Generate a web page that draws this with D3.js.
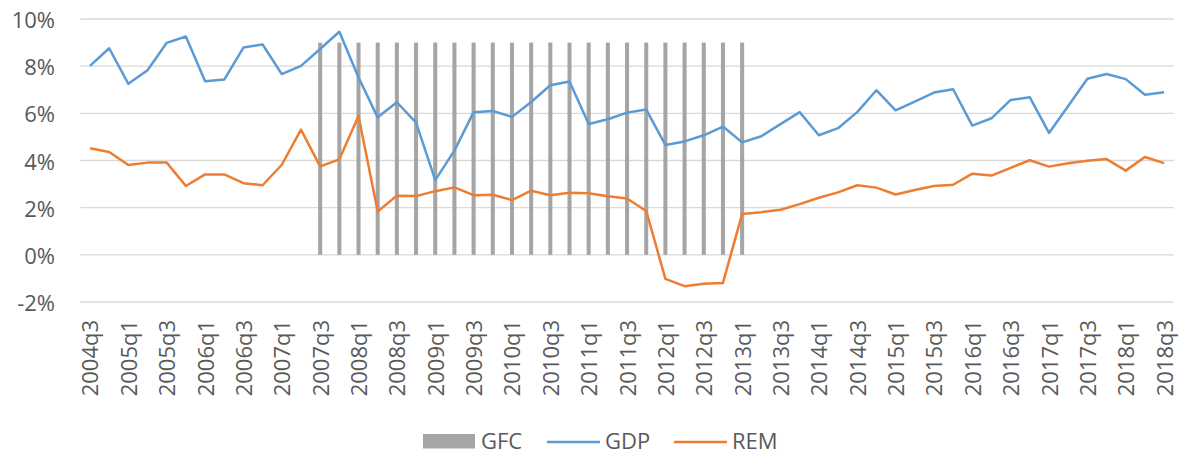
<!DOCTYPE html>
<html><head><meta charset="utf-8">
<script src="https://cdn.jsdelivr.net/npm/d3@7"></script>
<style>body{margin:0;background:#fff;} text{font-family:"Open Sans",sans-serif;fill:#595959;}</style>
</head><body><svg id="c" width="1180" height="455"></svg>
<script>
const quarters = ["2004q3","2004q4","2005q1","2005q2","2005q3","2005q4","2006q1","2006q2","2006q3","2006q4",
"2007q1","2007q2","2007q3","2007q4","2008q1","2008q2","2008q3","2008q4","2009q1","2009q2",
"2009q3","2009q4","2010q1","2010q2","2010q3","2010q4","2011q1","2011q2","2011q3","2011q4",
"2012q1","2012q2","2012q3","2012q4","2013q1","2013q2","2013q3","2013q4","2014q1","2014q2",
"2014q3","2014q4","2015q1","2015q2","2015q3","2015q4","2016q1","2016q2","2016q3","2016q4",
"2017q1","2017q2","2017q3","2017q4","2018q1","2018q2","2018q3"];
const gdp = [8.01,8.76,7.25,7.83,8.99,9.26,7.36,7.43,8.79,8.92,
7.66,8.01,8.73,9.46,7.52,5.83,6.47,5.61,3.17,4.42,
6.05,6.10,5.85,6.48,7.19,7.35,5.55,5.75,6.03,6.16,
4.66,4.81,5.07,5.44,4.77,5.03,5.54,6.05,5.07,5.37,
6.05,6.98,6.13,6.50,6.88,7.02,5.48,5.79,6.57,6.68,
5.17,6.31,7.47,7.67,7.45,6.79,6.89];
const rem = [4.52,4.36,3.81,3.91,3.91,2.92,3.41,3.41,3.04,2.95,
3.82,5.31,3.75,4.05,5.89,1.84,2.51,2.49,2.70,2.86,
2.53,2.55,2.32,2.72,2.53,2.63,2.61,2.48,2.39,1.86,
-1.02,-1.33,-1.23,-1.19,1.73,1.81,1.91,2.15,2.42,2.65,
2.95,2.85,2.56,2.75,2.92,2.97,3.44,3.36,3.69,4.01,
3.74,3.88,3.99,4.06,3.57,4.15,3.89];
const gfc = [null,null,null,null,null,null,null,null,null,null,
null,null,9,9,9,9,9,9,9,9,
9,9,9,9,9,9,9,9,9,9,
9,9,9,9,9,null,null,null,null,null,
null,null,null,null,null,null,null,null,null,null,
null,null,null,null,null,null,null];
const yTicks = [-2,0,2,4,6,8,10];
const xTickLabels = quarters.filter((q,i)=>i%2===0);

const svg = d3.select("#c");
const pLeft = 80.4, pRight = 1173.7, pTop = 19, pBottom = 302;
const x = d3.scaleBand().domain(quarters).range([pLeft,pRight]).padding(0);
const xb = d3.scaleBand().domain(quarters).range([pLeft,pRight]).paddingInner(0.79).paddingOuter(0.395);
const y = d3.scaleLinear().domain([-2,10]).range([pBottom,pTop]);
const cx = q => x(q) + x.bandwidth()/2;

svg.append("g").selectAll("line").data(yTicks).join("line")
  .attr("x1",pLeft).attr("x2",pRight).attr("y1",d=>y(d)).attr("y2",d=>y(d))
  .attr("stroke","#d9d9d9").attr("stroke-width",1.3);
svg.append("g").selectAll("text").data(yTicks).join("text")
  .attr("x",55).attr("y",d=>y(d)).attr("text-anchor","end").attr("dominant-baseline","central")
  .attr("font-size",22).text(d=>d+"%");
svg.append("g").selectAll("rect").data(quarters.map((q,i)=>({q,v:gfc[i]})).filter(d=>d.v!==null)).join("rect")
  .attr("x",d=>xb(d.q)).attr("width",xb.bandwidth()).attr("y",d=>y(d.v)).attr("height",d=>y(0)-y(d.v))
  .attr("fill","#a5a5a5");
const line = d3.line().x((d,i)=>cx(quarters[i])).y(d=>y(d));
svg.append("path").datum(gdp).attr("d",line).attr("fill","none").attr("stroke","#5b9bd5").attr("stroke-width",2.5).attr("stroke-linejoin","round");
svg.append("path").datum(rem).attr("d",line).attr("fill","none").attr("stroke","#ed7d31").attr("stroke-width",2.5).attr("stroke-linejoin","round");
svg.append("g").selectAll("text").data(xTickLabels).join("text")
  .attr("transform",d=>`translate(${cx(d)-0.5},320) rotate(-90)`)
  .attr("text-anchor","end").attr("dominant-baseline","central").attr("font-size",22).text(d=>d);
const lg = svg.append("g");
lg.append("rect").attr("x",423).attr("y",434).attr("width",52).attr("height",14.5).attr("fill","#a5a5a5");
lg.append("text").attr("x",481).attr("y",449).attr("font-size",22).text("GFC");
lg.append("line").attr("x1",547).attr("x2",600).attr("y1",442).attr("y2",442).attr("stroke","#5b9bd5").attr("stroke-width",2.5);
lg.append("text").attr("x",605).attr("y",449).attr("font-size",22).text("GDP");
lg.append("line").attr("x1",674).attr("x2",727).attr("y1",442).attr("y2",442).attr("stroke","#ed7d31").attr("stroke-width",2.5);
lg.append("text").attr("x",732).attr("y",449).attr("font-size",22).text("REM");
</script></body></html>
